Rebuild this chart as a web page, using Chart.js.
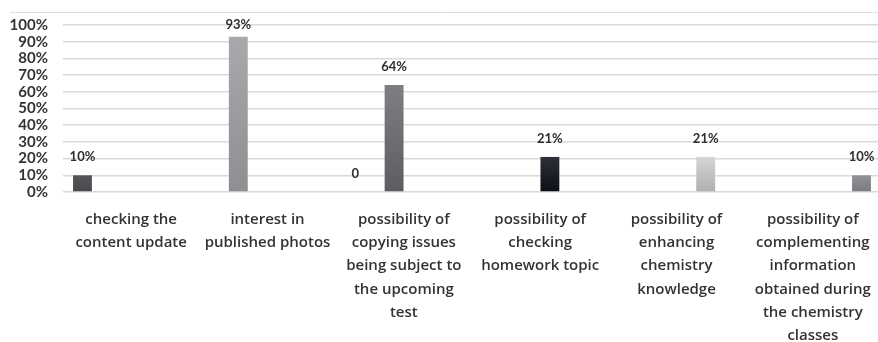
<!DOCTYPE html>
<html>
<head>
<meta charset="utf-8">
<script src="https://cdn.jsdelivr.net/npm/chart.js@4"></script>
<style>
  html, body { margin: 0; padding: 0; background: #fff; overflow: hidden; }
  #wrap { position: relative; width: 881px; height: 342px; }
</style>
</head>
<body>
<div id="wrap"><canvas id="chart"></canvas></div>
<script>
const categories = [
  ['checking the', 'content update'],
  ['interest in', 'published photos'],
  ['possibility of', 'copying issues', 'being subject to', 'the upcoming', 'test'],
  ['possibility of', 'checking', 'homework topic'],
  ['possibility of', 'enhancing', 'chemistry', 'knowledge'],
  ['possibility of', 'complementing', 'information', 'obtained during', 'the chemistry', 'classes']
];

// one series per category, percent values
const checkingUpdate     = [10, null, 0, null, null, null];
const publishedPhotos    = [null, 93, null, null, null, null];
const copyingIssues      = [null, null, 64, null, null, null];
const homeworkTopic      = [null, null, null, 21, null, null];
const enhancingKnowledge = [null, null, null, null, 21, null];
const complementingInfo  = [null, null, null, null, null, 10];

const yTicks = [0, 10, 20, 30, 40, 50, 60, 70, 80, 90, 100];

// top / bottom shade of each series
const shades = [
  ['#55565a', '#48494c'],
  ['#a7a9ac', '#8d8f92'],
  ['#7e7f82', '#5c5d60'],
  ['#2e3038', '#0d0f17'],
  ['#d4d5d7', '#aeafb1'],
  ['#929396', '#7a7b7e']
];

function barFill(idx) {
  return (ctx) => {
    const chart = ctx.chart;
    const area = chart.chartArea;
    if (!area || ctx.raw == null) return shades[idx][1];
    const y = chart.scales.y;
    const top = y.getPixelForValue(ctx.raw);
    const bottom = y.getPixelForValue(0);
    if (bottom - top < 1) return shades[idx][1];
    const g = chart.ctx.createLinearGradient(0, top, 0, bottom);
    g.addColorStop(0, shades[idx][0]);
    g.addColorStop(1, shades[idx][1]);
    return g;
  };
}

const seriesData = [checkingUpdate, publishedPhotos, copyingIssues, homeworkTopic, enhancingKnowledge, complementingInfo];
const seriesNames = ['checking the content update', 'interest in published photos', 'copying issues',
  'checking homework topic', 'enhancing chemistry knowledge', 'complementing information'];

const valueLabels = {
  id: 'valueLabels',
  afterDatasetsDraw(chart) {
    const ctx = chart.ctx;
    ctx.save();
    ctx.font = 'bold 13px Lato';
    ctx.fillStyle = '#2e2e2e';
    ctx.textAlign = 'center';
    ctx.textBaseline = 'middle';
    chart.data.datasets.forEach((ds, di) => {
      const meta = chart.getDatasetMeta(di);
      meta.data.forEach((bar, i) => {
        const v = ds.data[i];
        if (v == null) return;
        const text = v === 0 ? '0' : v + '%';
        const y = Math.max(bar.y - 18, chart.chartArea.top);
        ctx.fillText(text, bar.x, y);
      });
    });
    ctx.restore();
  }
};

const topRule = {
  id: 'topRule',
  beforeDraw(chart) {
    const ctx = chart.ctx;
    ctx.save();
    ctx.strokeStyle = '#dedede';
    ctx.lineWidth = 1;
    ctx.beginPath();
    ctx.moveTo(10, 12.5);
    ctx.lineTo(chart.width, 12.5);
    ctx.stroke();
    ctx.restore();
  }
};

new Chart(document.getElementById('chart'), {
  type: 'bar',
  data: {
    labels: categories,
    datasets: seriesData.map((d, i) => ({
      label: seriesNames[i],
      data: d,
      backgroundColor: barFill(i),
      borderWidth: 0,
      categoryPercentage: 0.857,
      barPercentage: 0.97
    }))
  },
  options: {
    responsive: true,
    maintainAspectRatio: false,
    animation: false,
    layout: { padding: { top: 25, left: 0, right: 0, bottom: 0 } },
    plugins: {
      legend: { display: false },
      tooltip: { enabled: false }
    },
    scales: {
      x: {
        grid: { display: false },
        border: { display: false },
        ticks: {
          color: '#333',
          font: { family: 'Open Sans', size: 15, weight: 600, lineHeight: 1.55 },
          padding: 8,
          maxRotation: 0,
          autoSkip: false
        },
        afterFit(scale) { scale.height = 150; }
      },
      y: {
        min: 0,
        max: 100,
        afterBuildTicks(scale) { scale.ticks = yTicks.map(v => ({ value: v })); },
        grid: { color: '#d9d9d9', lineWidth: 1.5, drawTicks: false },
        border: { display: false },
        ticks: {
          color: '#333',
          font: { family: 'Lato', size: 15, weight: 'bold', lineHeight: 1 },
          padding: 15,
          autoSkip: false,
          callback: v => v + '%'
        },
        afterFit(scale) { scale.width = 63; }
      }
    }
  },
  plugins: [valueLabels, topRule]
});
</script>
</body>
</html>
